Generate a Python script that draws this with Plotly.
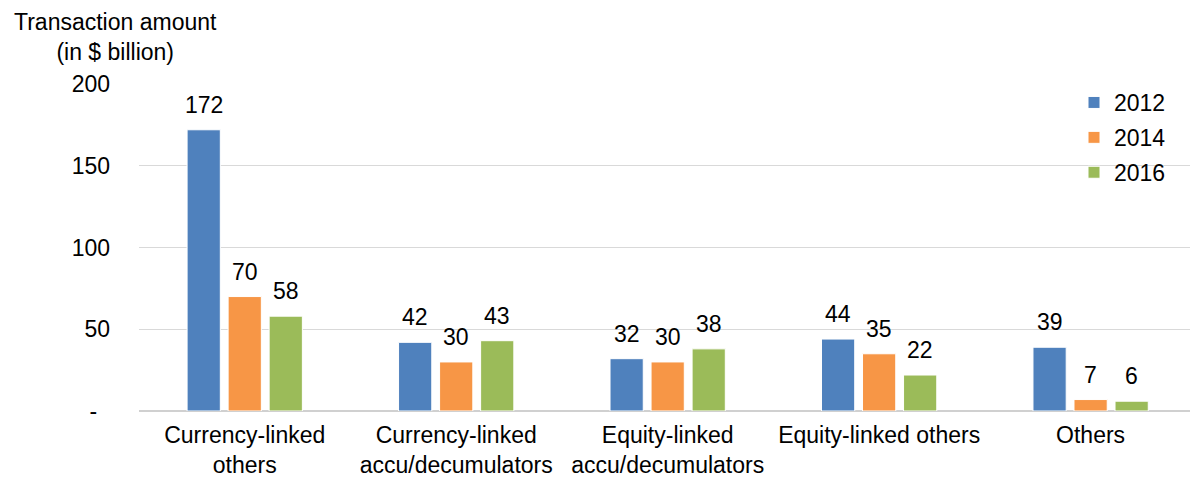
import plotly.graph_objects as go

# Transaction amounts by product type (in $ billion)
categories = [
    "Currency-linked<br>others",
    "Currency-linked<br>accu/decumulators",
    "Equity-linked<br>accu/decumulators",
    "Equity-linked others",
    "Others",
]
years = ["2012", "2014", "2016"]
values_2012 = [172, 42, 32, 44, 39]
values_2014 = [70, 30, 30, 35, 7]
values_2016 = [58, 43, 38, 22, 6]
series = [values_2012, values_2014, values_2016]
colors = ["#4f81bd", "#f79646", "#9bbb59"]

y_ticks = [0, 50, 100, 150, 200]
y_tick_text = ["-\u00a0\u00a0", "50", "100", "150", "200"]

FONT = "Liberation Sans, Arial, sans-serif"
FS = 23
W, H = 1190, 479
M_L, M_R, M_T, M_B = 139, 0, 84, 68
plot_w = W - M_L - M_R
plot_h = H - M_T - M_B

fig = go.Figure()
for name, vals, col in zip(years, series, colors):
    fig.add_trace(go.Bar(
        x=categories, y=vals, name=name, legendgroup=name,
        marker=dict(color=col, line=dict(color="white", width=1)),
        hoverinfo="x+y+name",
    ))

# value labels above each bar, offset to the bar's slot within its group
bargap = 0.418
n = len(series)
unit_px = plot_w / 4.97
slot_px = (1 - bargap) * unit_px / n
annotations = []
for i, vals in enumerate(series):
    for cat, v in zip(categories, vals):
        annotations.append(dict(
            x=cat, y=v, xref="x", yref="y", text=str(v), showarrow=False,
            xanchor="center", yanchor="bottom",
            xshift=(i - (n - 1) / 2) * slot_px, yshift=10,
            font=dict(family=FONT, size=FS, color="#000000"),
        ))

# axis title above the value axis
annotations.append(dict(
    x=(115 - M_L) / plot_w, y=1 + (M_T - 7) / plot_h, xref="paper", yref="paper",
    text="Transaction amount<br>(in $ billion)", showarrow=False,
    xanchor="center", yanchor="top", align="center",
    font=dict(family=FONT, size=FS, color="#000000"),
))

fig.update_layout(
    width=W, height=H,
    margin=dict(l=M_L, r=M_R, t=M_T, b=M_B, pad=0, autoexpand=False),
    paper_bgcolor="white", plot_bgcolor="white",
    barmode="group", bargap=bargap, bargroupgap=0.19,
    font=dict(family=FONT, size=FS, color="#000000"),
    showlegend=True,
    legend=dict(
        x=(1074 - M_L) / plot_w, y=1 + (M_T - 81) / plot_h,
        xanchor="left", yanchor="top",
        traceorder="grouped", tracegroupgap=2,
        font=dict(family=FONT, size=FS, color="#000000"),
        bgcolor="rgba(0,0,0,0)", borderwidth=0,
    ),
    annotations=annotations,
)
fig.update_xaxes(
    type="category", range=[-0.5, 4.47],
    showgrid=False, showline=False, ticks="",
    tickfont=dict(family=FONT, size=FS, color="#000000"),
    ticklabelstandoff=8,
)
fig.update_yaxes(
    range=[0, 200], tickvals=y_ticks, ticktext=y_tick_text,
    showgrid=True, gridcolor="#d9d9d9", gridwidth=1,
    zeroline=True, zerolinecolor="#d0d0d0", zerolinewidth=2,
    showline=False, ticks="",
    tickfont=dict(family=FONT, size=FS, color="#000000"),
    ticklabelstandoff=28,
)

fig.write_html("out.html")
